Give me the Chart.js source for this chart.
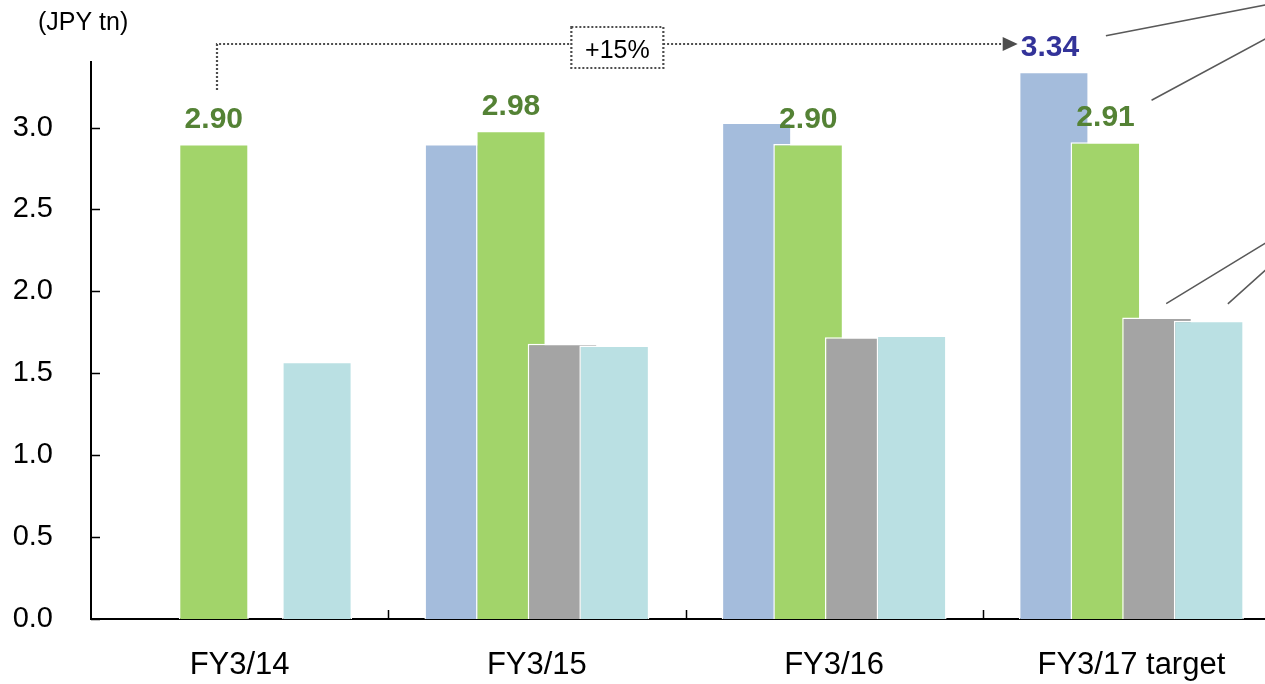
<!DOCTYPE html>
<html>
<head>
<meta charset="utf-8">
<script src="https://cdn.jsdelivr.net/npm/chart.js@4/dist/chart.umd.min.js"></script>
<style>
  html, body { margin: 0; padding: 0; background: #fff; overflow: hidden; }
  #wrap { width: 1290px; height: 684px; }
</style>
</head>
<body>
<div id="wrap"><canvas id="salesChart" width="1290" height="684"></canvas></div>
<script>
// categories and values (JPY tn)
const categories = ['FY3/14', 'FY3/15', 'FY3/16', 'FY3/17 target'];
const planValues = [null, 2.90, 3.03, 3.34];
const resultValues = [2.90, 2.98, 2.90, 2.91];
const greyValues = [null, 1.68, 1.72, 1.84];
const cyanValues = [1.57, 1.67, 1.73, 1.82];
const yTicks = [0, 0.5, 1.0, 1.5, 2.0, 2.5, 3.0];
const growthLabel = '+15%';
const unitLabel = '(JPY tn)';

const FONT = 'Arial, "Liberation Sans", sans-serif';
const GREEN_TEXT = '#548235';
const NAVY_TEXT = '#333399';
const DOT_GREY = '#4d4d4d';

// later datasets sit on top of earlier ones (Chart.js draws the other way by default)
const forwardDrawOrder = {
    id: 'forwardDrawOrder',
    beforeDatasetsDraw(chart) {
        chart.getSortedVisibleDatasetMetas().forEach(meta => meta.controller.draw());
        return false;
    }
};

const annotations = {
    id: 'annotations',
    afterDraw(chart) {
        const ctx = chart.ctx;
        const x = chart.scales.x;
        const y = chart.scales.y;
        const area = chart.chartArea;
        const blueMeta = chart.getDatasetMeta(0);
        const greenMeta = chart.getDatasetMeta(1);
        const greyMeta = chart.getDatasetMeta(2);
        const cyanMeta = chart.getDatasetMeta(3);

        ctx.save();
        // inward tick marks on both axes
        ctx.strokeStyle = '#000';
        ctx.lineWidth = 1.5;
        ctx.beginPath();
        yTicks.forEach(v => {
            const py = Math.round(y.getPixelForValue(v)) + 0.5;
            ctx.moveTo(area.left, py);
            ctx.lineTo(area.left + 9, py);
        });
        for (let i = 0; i < categories.length - 1; i++) {
            const px = Math.round((x.getPixelForTick(i) + x.getPixelForTick(i + 1)) / 2) + 0.5;
            ctx.moveTo(px, area.bottom);
            ctx.lineTo(px, area.bottom - 9);
        }
        ctx.stroke();

        // unit
        ctx.fillStyle = '#000';
        ctx.font = '25px ' + FONT;
        ctx.textAlign = 'left';
        ctx.textBaseline = 'alphabetic';
        ctx.fillText(unitLabel, 38, 30);

        // value labels
        ctx.font = 'bold 30px ' + FONT;
        ctx.textAlign = 'center';
        ctx.fillStyle = GREEN_TEXT;
        greenMeta.data.forEach((bar, i) => {
            ctx.fillText(resultValues[i].toFixed(2), bar.x, bar.y - 16);
        });
        const last = categories.length - 1;
        const planBar = blueMeta.data[last];
        const planText = planValues[last].toFixed(2);
        ctx.fillStyle = NAVY_TEXT;
        ctx.fillText(planText, planBar.x - 4, planBar.y - 16);
        const planLeft = planBar.x - 4 - ctx.measureText(planText).width / 2;

        // dotted growth arrow
        const startBar = greenMeta.data[0];
        const sx = Math.round(startBar.x + 3);
        const lineY = 44;
        const tipX = planLeft - 3;
        ctx.strokeStyle = DOT_GREY;
        ctx.lineWidth = 2.2;
        ctx.setLineDash([2, 2]);
        ctx.beginPath();
        ctx.moveTo(sx, startBar.y - 54);
        ctx.lineTo(sx, lineY);
        ctx.lineTo(tipX - 14, lineY);
        ctx.stroke();
        ctx.setLineDash([]);
        ctx.fillStyle = DOT_GREY;
        ctx.beginPath();
        ctx.moveTo(tipX, lineY);
        ctx.lineTo(tipX - 15, lineY - 7);
        ctx.lineTo(tipX - 15, lineY + 7);
        ctx.closePath();
        ctx.fill();

        // growth box
        const bx = (sx + tipX) / 2;
        ctx.fillStyle = '#fff';
        ctx.fillRect(bx - 46, 27, 92, 41);
        ctx.setLineDash([2, 2]);
        ctx.strokeRect(bx - 46, 27, 92, 41);
        ctx.setLineDash([]);
        ctx.fillStyle = '#000';
        ctx.font = '25px ' + FONT;
        ctx.fillText(growthLabel, bx, 58);

        // leader lines running out to the right-hand labels
        ctx.strokeStyle = '#595959';
        ctx.lineWidth = 1.5;
        const leaders = [
            [planBar.x + 52, planBar.y - 36, 160, -31],
            [greenMeta.data[last].x + 46, greenMeta.data[last].y - 42, 115, -62],
            [greyMeta.data[last].x + 9, greyMeta.data[last].y - 14, 100, -61],
            [cyanMeta.data[last].x + 19, cyanMeta.data[last].y - 17, 39, -35]
        ];
        ctx.beginPath();
        leaders.forEach(([lx, ly, dx, dy]) => {
            ctx.moveTo(lx, ly);
            ctx.lineTo(lx + dx * 1.3, ly + dy * 1.3);
        });
        ctx.stroke();
        ctx.restore();
    }
};

const barStyle = {
    borderColor: '#ffffff',
    borderWidth: 1.5,
    categoryPercentage: 0.695,
    barPercentage: 1.355
};

new Chart(document.getElementById('salesChart'), {
    type: 'bar',
    data: {
        labels: categories,
        datasets: [
            { label: 'Plan', data: planValues, backgroundColor: '#a4bcdc', ...barStyle },
            { label: 'Result', data: resultValues, backgroundColor: '#a2d46a', ...barStyle },
            { label: 'Grey', data: greyValues, backgroundColor: '#a4a4a4', ...barStyle },
            { label: 'Cyan', data: cyanValues, backgroundColor: '#bae0e3', ...barStyle }
        ]
    },
    options: {
        responsive: false,
        animation: false,
        devicePixelRatio: 1,
        layout: { padding: { top: 62, right: 10, left: 0, bottom: 0 } },
        plugins: {
            legend: { display: false },
            tooltip: { enabled: false }
        },
        scales: {
            x: {
                grid: { display: false, drawTicks: false },
                border: { display: true, color: '#000', width: 2 },
                ticks: { color: '#000', font: { family: FONT, size: 31 }, padding: 28 },
                afterFit(scale) { scale.height = 65; }
            },
            y: {
                min: 0,
                max: 3.4,
                grid: { display: false, drawTicks: false },
                border: { display: true, color: '#000', width: 2 },
                ticks: {
                    stepSize: 0.5,
                    color: '#000',
                    font: { family: FONT, size: 29 },
                    padding: 38,
                    callback: v => Number(v).toFixed(1)
                },
                afterBuildTicks(scale) {
                    scale.ticks = yTicks.map(v => ({ value: v }));
                },
                afterFit(scale) { scale.width = 91; }
            }
        }
    },
    plugins: [forwardDrawOrder, annotations]
});
</script>
</body>
</html>
